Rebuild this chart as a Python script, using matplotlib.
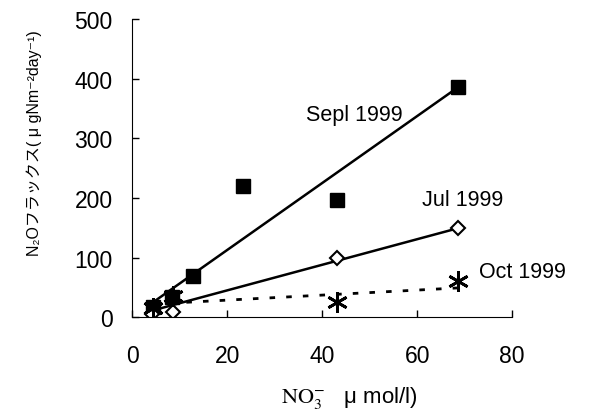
import matplotlib.pyplot as plt

plt.rcParams['font.family'] = ['Liberation Sans', 'Noto Sans CJK JP', 'DejaVu Sans']
plt.rcParams['mathtext.fontset'] = 'stix'

# data
sep_x = [4.4, 8.3, 12.9, 23.3, 43.1, 68.5]
sep_y = [17, 34, 69, 220, 196, 386]
jul_x = [4.2, 8.5, 43.1, 68.5]
jul_y = [5, 8, 100, 149]
oct_x = [4.4, 8.5, 43.1, 68.5]
oct_y = [15, 35, 25, 60]

# fitted lines (end points)
sep_fit_x = [4.4, 68.5]
sep_fit_y = [25, 385]
jul_fit_x = [4.2, 68.5]
jul_fit_y = [11, 149]
oct_fit_x = [4.4, 68.5]
oct_fit_y = [22, 49]

fig = plt.figure(figsize=(5.9, 4.1), dpi=100)
ax = fig.add_axes([0.224, 0.224, 0.644, 0.727])

ax.plot(sep_fit_x, sep_fit_y, color='black', lw=1.8)
ax.plot(jul_fit_x, jul_fit_y, color='black', lw=1.8)
ax.plot(oct_fit_x, oct_fit_y, color='black', lw=2, ls=(0, (2, 4)))

ax.plot(sep_x, sep_y, 's', color='black', ms=10, ls='none')
ax.plot(jul_x, jul_y, 'D', mfc='white', mec='black', mew=1.5, ms=7, ls='none')
ax.plot(oct_x, oct_y, marker=(6, 2, 0), color='black', mew=2, ms=15, ls='none')

ax.text(36.7, 340, 'Sepl 1999', fontsize=15.5, va='center')
ax.text(61, 198, 'Jul 1999', fontsize=15.5, va='center')
ax.text(73.1, 77, 'Oct 1999', fontsize=15.5, va='center', clip_on=False)

ax.set_xlim(0, 80)
ax.set_ylim(0, 500)
ax.set_xticks([0, 20, 40, 60, 80])
ax.set_yticks([0, 100, 200, 300, 400, 500])
ax.tick_params(direction='in', length=5, width=1, labelsize=16.5)
ax.tick_params(axis='y', pad=14)
ax.tick_params(axis='x', pad=19)
ax.spines['top'].set_visible(False)
ax.spines['right'].set_visible(False)

ax.set_ylabel('N₂Oフラックス( μ gNm⁻²day⁻¹)', fontsize=11.5)
ax.yaxis.set_label_coords(-0.237, 0.587)
ax.set_xlabel(r'$\mathrm{NO_3^{-}}$   μ mol/l)', fontsize=16)
ax.xaxis.set_label_coords(0.571, -0.225)

fig.savefig('out.png', dpi=100)
